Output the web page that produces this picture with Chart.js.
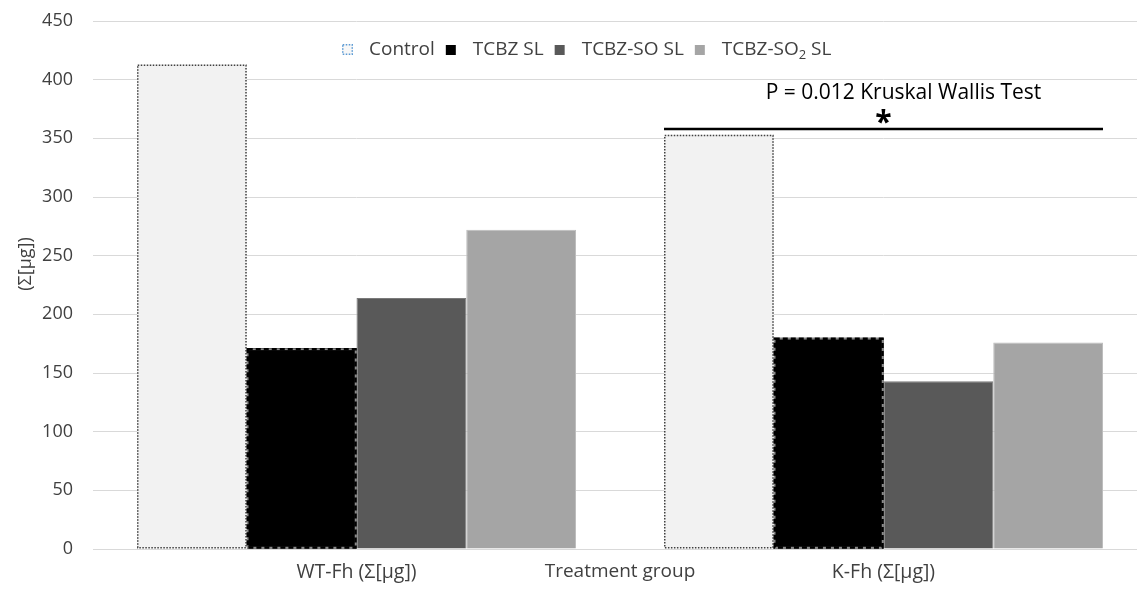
<!DOCTYPE html>
<html>
<head>
<meta charset="utf-8">
<script src="https://cdn.jsdelivr.net/npm/chart.js@4.4.1/dist/chart.umd.min.js"></script>
<style>
html, body { margin: 0; padding: 0; background: #fff; overflow: hidden; }
#wrap { width: 1147px; height: 589px; }
</style>
</head>
<body>
<div id="wrap"><canvas id="chart" width="1147" height="589"></canvas></div>
<script>
// data
const categories = ['WT-Fh (Σ[µg])', 'K-Fh (Σ[µg])'];
const seriesNames = ['Control', 'TCBZ SL', 'TCBZ-SO SL', 'TCBZ-SO₂ SL'];
const controlValues = [413, 353];
const tcbzValues = [171, 180];
const tcbzSoValues = [214, 143];
const tcbzSo2Values = [272, 176];
const yTicks = [0, 50, 100, 150, 200, 250, 300, 350, 400, 450];
const xTitle = 'Treatment group';
const yTitle = '(Σ[µg])';
const testLabel = 'P = 0.012 Kruskal Wallis Test';
const testStar = '*';
const testLineValue = 358;
const testLabelValue = 389;
const testStarValue = 368;

const FONT = "'Open Sans', 'DejaVu Sans', sans-serif";
const TEXT = '#404040';
const fills = ['#f2f2f2', '#000000', '#595959', '#a5a5a5'];
const borders = ['#f2f2f2', '#000000', '#7a7a7a', '#bdbdbd'];

// dotted / dashed outlines for the first two series
const barOutlines = {
    id: 'barOutlines',
    afterDatasetsDraw(chart) {
        const ctx = chart.ctx;
        ctx.save();
        chart.getDatasetMeta(0).data.forEach(bar => {
            const p = bar.getProps(['x', 'y', 'base', 'width'], true);
            ctx.setLineDash([1.5, 1.5]);
            ctx.lineWidth = 1.5;
            ctx.strokeStyle = '#404040';
            ctx.strokeRect(p.x - p.width / 2 + 0.75, p.y + 0.75, p.width - 1.5, p.base - p.y - 1.5);
        });
        chart.getDatasetMeta(1).data.forEach(bar => {
            const p = bar.getProps(['x', 'y', 'base', 'width'], true);
            const r = [p.x - p.width / 2 + 1, p.y + 1, p.width - 2, p.base - p.y - 2];
            ctx.setLineDash([]);
            ctx.lineWidth = 1.5;
            ctx.strokeStyle = '#8a8a8a';
            ctx.strokeRect(...r);
            ctx.setLineDash([5, 3]);
            ctx.lineWidth = 2.5;
            ctx.strokeStyle = '#000';
            ctx.strokeRect(...r);
        });
        ctx.restore();
    }
};

// Kruskal Wallis bracket, legend and y title
const extras = {
    id: 'extras',
    afterDraw(chart) {
        const ctx = chart.ctx;
        const y = chart.scales.y;
        const first = chart.getDatasetMeta(0).data[1].getProps(['x', 'width'], true);
        const last = chart.getDatasetMeta(3).data[1].getProps(['x', 'width'], true);
        const x0 = first.x - first.width / 2;
        const x1 = last.x + last.width / 2;
        const mid = (x0 + x1) / 2;
        ctx.save();
        ctx.strokeStyle = '#000';
        ctx.lineWidth = 2.5;
        ctx.beginPath();
        ctx.moveTo(x0, y.getPixelForValue(testLineValue));
        ctx.lineTo(x1, y.getPixelForValue(testLineValue));
        ctx.stroke();
        ctx.fillStyle = '#000';
        ctx.textAlign = 'center';
        ctx.textBaseline = 'middle';
        ctx.font = `21px ${FONT}`;
        ctx.fillText(testLabel, mid + 20, y.getPixelForValue(testLabelValue));
        ctx.font = `bold 30px ${FONT}`;
        ctx.fillText(testStar, mid, y.getPixelForValue(testStarValue) + 6);

        // y title
        ctx.save();
        ctx.translate(26, 264);
        ctx.rotate(-Math.PI / 2);
        ctx.fillStyle = TEXT;
        ctx.font = `18px ${FONT}`;
        ctx.fillText(yTitle, 0, 0);
        ctx.restore();

        // legend
        let lx = 342;
        const ly = 50;
        ctx.textAlign = 'left';
        seriesNames.forEach((name, i) => {
            if (i === 0) {
                ctx.fillStyle = '#f7f7f7';
                ctx.fillRect(lx, ly - 6, 11, 11);
                ctx.setLineDash([1.5, 1.5]);
                ctx.lineWidth = 1.5;
                ctx.strokeStyle = '#5b9bd5';
                ctx.strokeRect(lx + 0.75, ly - 5.25, 9.5, 9.5);
                ctx.setLineDash([]);
            } else {
                ctx.fillStyle = fills[i];
                ctx.fillRect(lx, ly - 5, 10, 10);
            }
            lx += 27;
            ctx.fillStyle = TEXT;
            const parts = name.split('₂');
            parts.forEach((part, k) => {
                ctx.font = `19px ${FONT}`;
                ctx.fillText(part, lx, ly);
                lx += ctx.measureText(part).width;
                if (k < parts.length - 1) {
                    ctx.font = `13px ${FONT}`;
                    ctx.fillText('2', lx, ly + 5);
                    lx += ctx.measureText('2').width;
                }
            });
            lx += 11;
        });
        ctx.restore();
    }
};

const seriesValues = [controlValues, tcbzValues, tcbzSoValues, tcbzSo2Values];

new Chart(document.getElementById('chart'), {
    type: 'bar',
    data: {
        labels: categories,
        datasets: seriesNames.map((name, i) => ({
            label: name,
            data: seriesValues[i],
            backgroundColor: fills[i],
            borderColor: borders[i],
            borderWidth: i >= 2 ? 1 : 0,
            categoryPercentage: 0.833,
            barPercentage: 1
        }))
    },
    options: {
        responsive: false,
        animation: false,
        devicePixelRatio: 1,
        layout: { padding: { top: 21, right: 0, bottom: 0, left: 0 } },
        plugins: {
            legend: { display: false },
            tooltip: { enabled: false }
        },
        scales: {
            x: {
                grid: { display: false },
                border: { display: false },
                ticks: { font: { family: FONT, size: 19.5 }, color: TEXT, padding: 4 },
                title: {
                    display: true,
                    text: xTitle,
                    font: { family: FONT, size: 19 },
                    color: TEXT,
                    padding: { top: 0, bottom: 6 }
                },
                afterFit: s => { s.height = 40; }
            },
            y: {
                min: 0,
                max: 450,
                afterBuildTicks: s => { s.ticks = yTicks.map(v => ({ value: v })); },
                grid: { color: '#d9d9d9', lineWidth: 1, drawTicks: false },
                border: { display: false },
                ticks: { font: { family: FONT, size: 18 }, color: TEXT, padding: 20 },
                afterFit: s => { s.width = 93; s.paddingTop = 0; s.paddingBottom = 0; }
            }
        }
    },
    plugins: [barOutlines, extras]
});
</script>
</body>
</html>
